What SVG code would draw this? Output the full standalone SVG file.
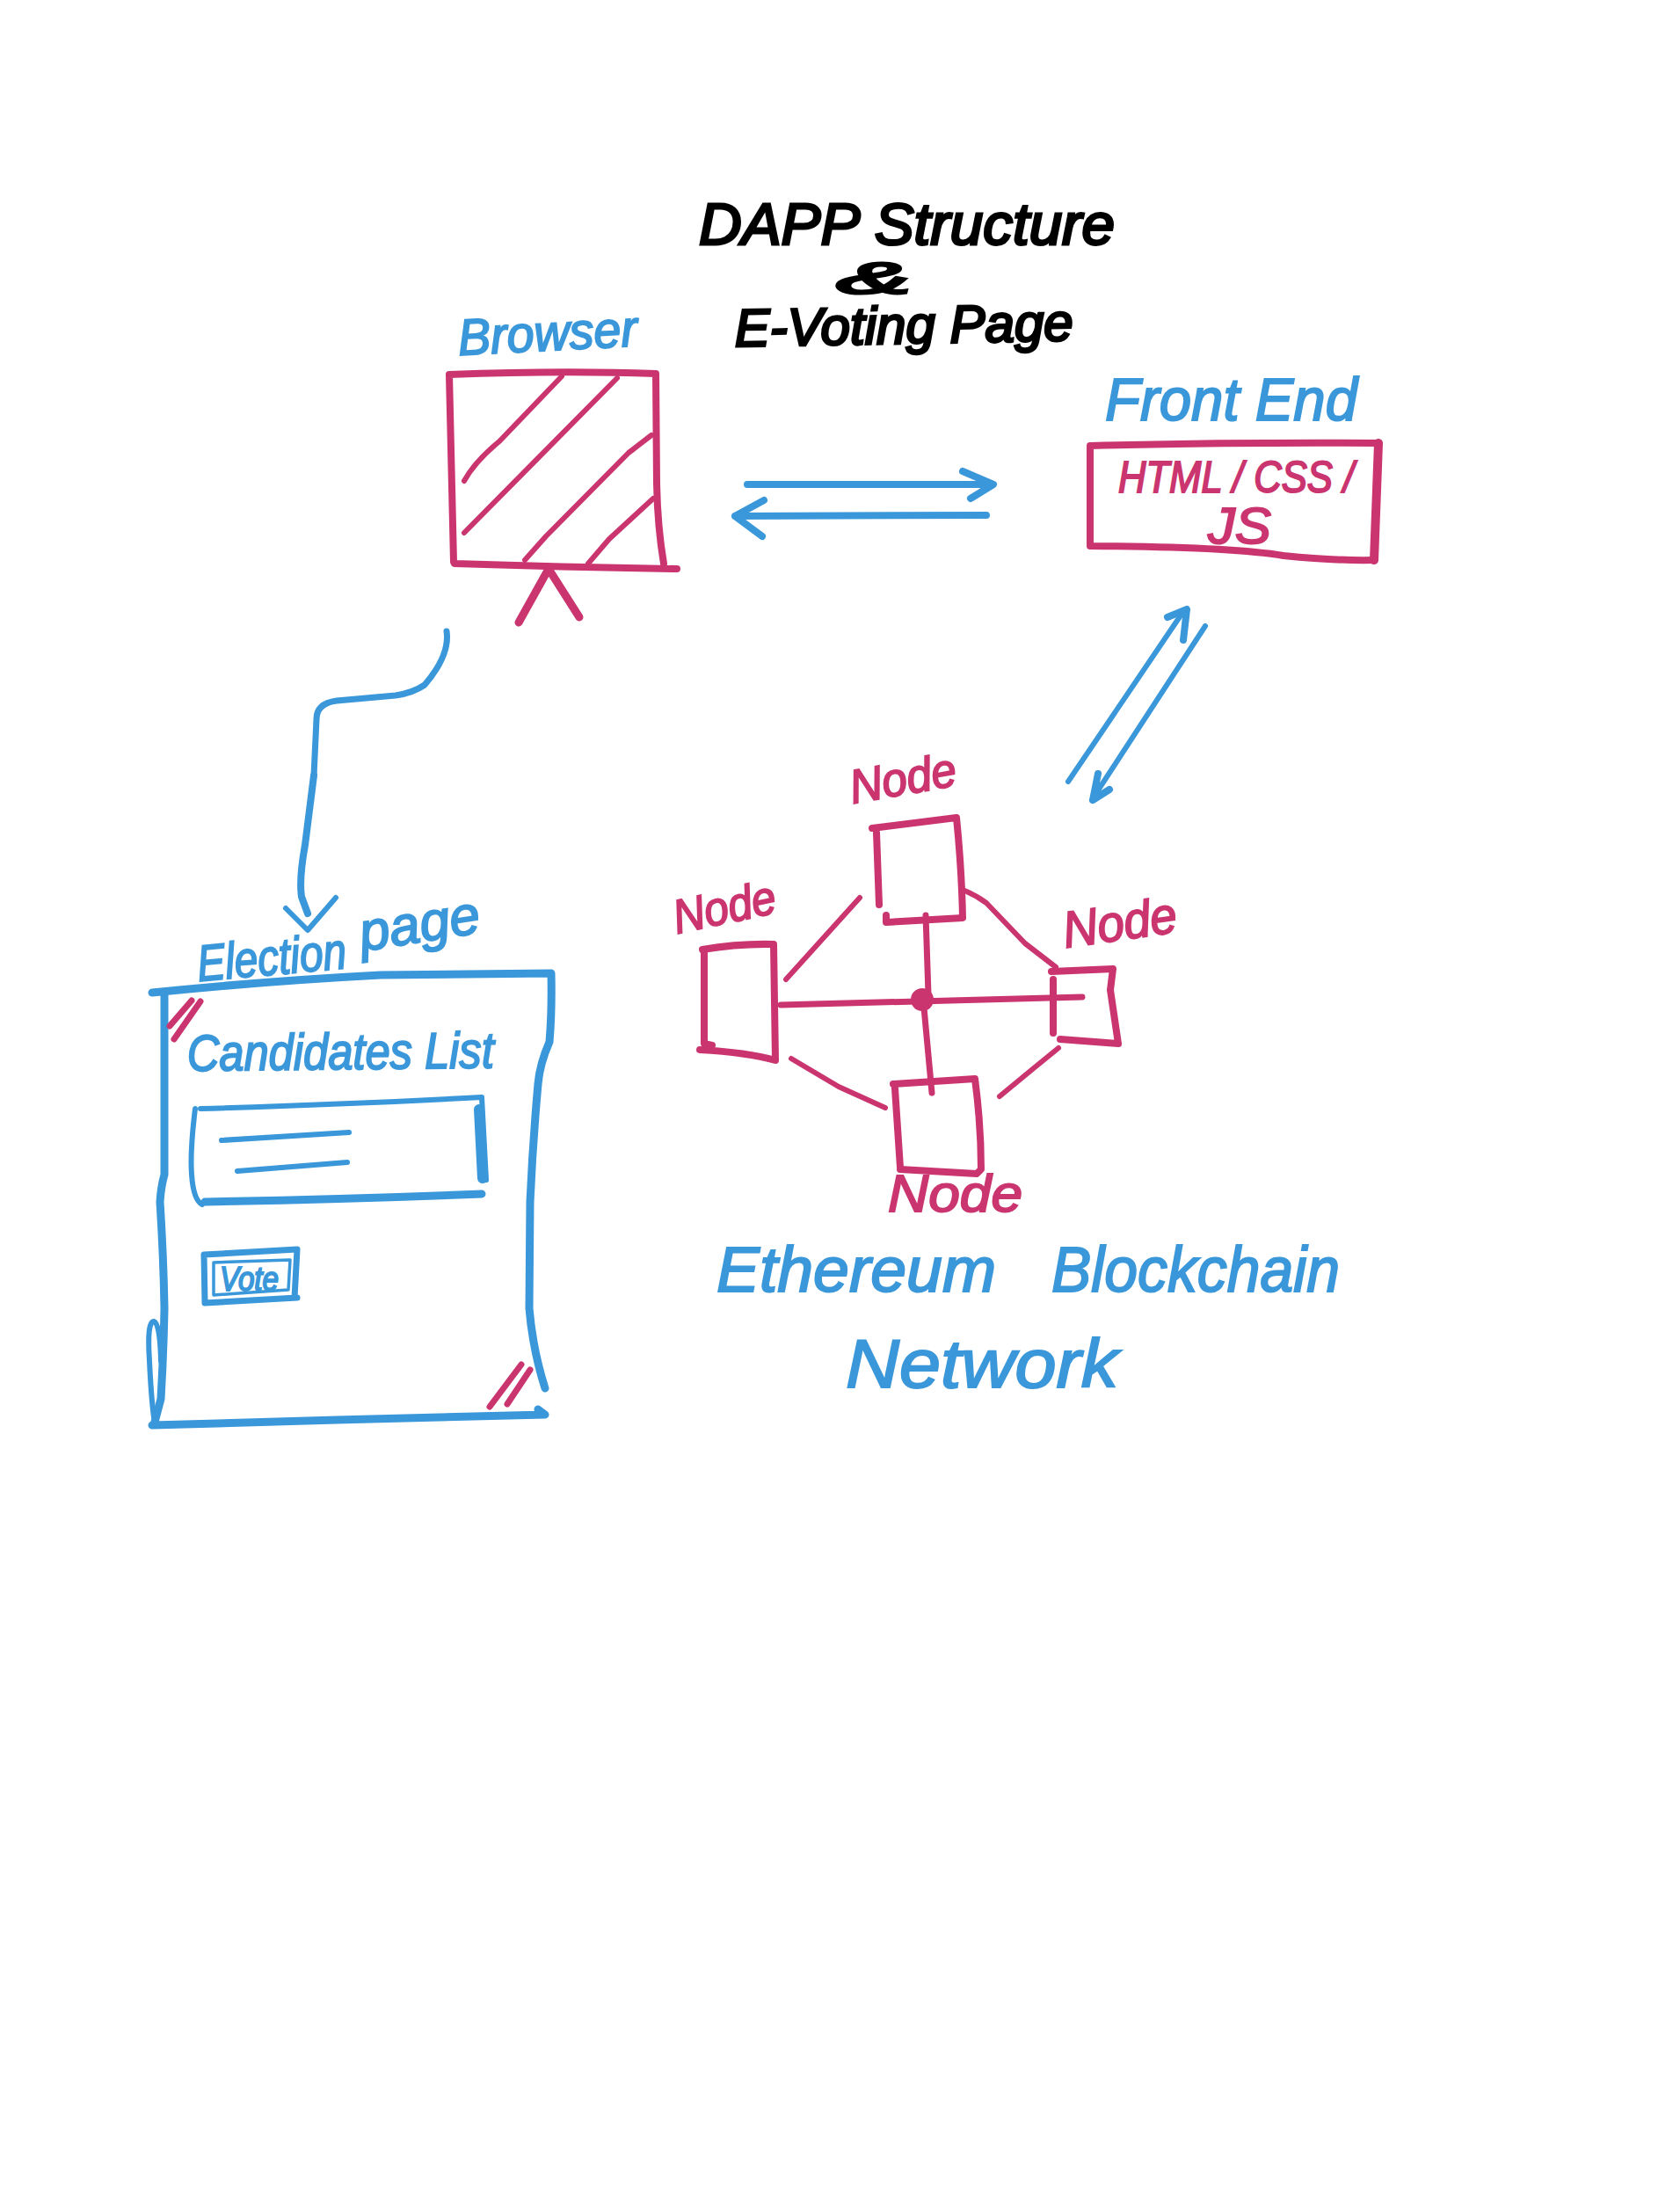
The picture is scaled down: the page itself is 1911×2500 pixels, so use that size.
<svg xmlns="http://www.w3.org/2000/svg" width="1911" height="2500" viewBox="0 0 1911 2500">
<style>
.s{fill:none;stroke-linecap:round;stroke-linejoin:round}
.b{stroke:#3A97DA}.p{stroke:#CB356F}.k{stroke:#000}
.w3{stroke-width:3.5}.w5{stroke-width:5}.w6{stroke-width:6}.w7{stroke-width:7}.w8{stroke-width:8}.w9{stroke-width:9}.w10{stroke-width:10}.w12{stroke-width:12}
text{font-family:"Liberation Sans",Arial,sans-serif;font-style:italic}
.tb{fill:#3A97DA;stroke:#3A97DA;stroke-width:2}
.tp{fill:#CB356F;stroke:#CB356F;stroke-width:2}
.tk{fill:#000;stroke:#000;stroke-width:3}
</style>
<rect width="1911" height="2500" fill="#fff"/>
<g id="title">
<text class="tk" x="795" y="278" font-size="66" textLength="473" lengthAdjust="spacingAndGlyphs">DAPP Structure</text>
<text class="tk" x="952" y="334" font-size="50" textLength="84" lengthAdjust="spacingAndGlyphs">&amp;</text>
<text class="tk" x="836" y="394" font-size="60" textLength="385" lengthAdjust="spacingAndGlyphs" transform="rotate(-1 836 394)">E-Voting Page</text>
</g>
<g id="browser">
<text class="tb" x="522" y="404" font-size="58" textLength="204" lengthAdjust="spacingAndGlyphs" transform="rotate(-3 522 404)">Browser</text>
<path class="s p w8" d="M511 426Q640 421 746 425L747 550Q748 600 755 641M511 426Q513 530 516 639M517 641Q640 645 770 647"/>
<path class="s p w6" d="M639 428L568 502Q540 525 528 547M702 430L528 606M741 495L715 515L621 610L597 637M743 567L693 613L669 641"/>
<path class="s p w9" d="M624 647L590 708M624 647L659 702"/>
</g>
<g id="front-end">
<text class="tb" x="1257" y="478" font-size="68" textLength="287" lengthAdjust="spacingAndGlyphs">Front End</text>
<path class="s p w8" d="M1240 507Q1400 503 1568 504M1240 507L1240 621Q1400 622 1460 632Q1520 638 1563 637"/>
<path class="s p w10" d="M1568 504L1563 637"/>
<text class="tp" x="1272" y="560" font-size="50" textLength="268" lengthAdjust="spacingAndGlyphs">HTML / CSS /</text>
<text class="tp" x="1374" y="618" font-size="58" textLength="72" lengthAdjust="spacingAndGlyphs">JS</text>
</g>
<g id="election-page">
<text class="tb" x="226" y="1116" font-size="58" textLength="170" lengthAdjust="spacingAndGlyphs" transform="rotate(-5 226 1116)">Election</text>
<text class="tb" x="412" y="1082" font-size="62" textLength="138" lengthAdjust="spacingAndGlyphs" transform="rotate(-9 412 1082)">page</text>
<path class="s b w9" d="M173 1129Q300 1116 433 1109L627 1107Q628 1150 625 1185Q614 1210 612 1233Q606 1300 603 1367L602 1488Q606 1535 620 1579M612 1603L620 1609Q500 1612 383 1615L173 1621M187 1130L187 1336Q183 1350 182 1367Q186 1430 187 1488Q186 1540 183 1591L175 1621"/>
<path class="s b w6" d="M183 1548Q182 1505 175 1503Q167 1503 170 1548Q172 1590 175 1612"/>
<path class="s p w7" d="M193 1167L218 1138M198 1182L228 1139M557 1600L593 1552M577 1597L603 1558"/>
<text class="tb" x="213" y="1218" font-size="58" textLength="349" lengthAdjust="spacingAndGlyphs" transform="rotate(-0.6 213 1218)">Candidates List</text>
<path class="s b w6" d="M228 1261Q400 1256 548 1248L553 1342M222 1261Q216 1310 218 1336Q220 1365 230 1370"/>
<path class="s b w9" d="M233 1367Q400 1364 548 1358"/>
<path class="s b w12" d="M545 1262L549 1340"/>
<path class="s b w6" d="M252 1297L397 1288M270 1332L395 1322"/>
<path class="s b w7" d="M232 1427L338 1421L335 1476M233 1482L338 1476M232 1427L233 1482"/>
<path class="s b w3" d="M243 1436L330 1433L328 1467L243 1473Z"/>
<text class="tb" x="250" y="1468" font-size="38" textLength="67" lengthAdjust="spacingAndGlyphs">Vote</text>
</g>
<g id="node-top">
<text class="tp" x="970" y="914" font-size="54" textLength="122" lengthAdjust="spacingAndGlyphs" transform="rotate(-10 970 914)">Node</text>
<path class="s p w8" d="M992 942L1088 930Q1094 990 1095 1044L1008 1049L1008 1041M997 947L1000 1029"/>
</g>
<g id="node-left">
<text class="tp" x="770" y="1062" font-size="54" textLength="118" lengthAdjust="spacingAndGlyphs" transform="rotate(-12 770 1062)">Node</text>
<path class="s p w8" d="M799 1080Q840 1073 880 1074L882 1206Q850 1197 796 1194M801 1083L801 1187L810 1189"/>
</g>
<g id="node-right">
<text class="tp" x="1212" y="1078" font-size="58" textLength="130" lengthAdjust="spacingAndGlyphs" transform="rotate(-8 1212 1078)">Node</text>
<path class="s p w8" d="M1196 1105L1266 1102L1263 1126L1272 1187L1206 1182M1198 1114L1198 1175"/>
</g>
<g id="node-bottom">
<text class="tp" x="1010" y="1378" font-size="60" textLength="153" lengthAdjust="spacingAndGlyphs">Node</text>
<path class="s p w8" d="M1016 1233L1109 1227Q1116 1280 1116 1330L1111 1335L1024 1330M1018 1238L1024 1328"/>
</g>
<g id="network-label">
<text class="tb" x="815" y="1469" font-size="72" textLength="318" lengthAdjust="spacingAndGlyphs">Ethereum</text>
<text class="tb" x="1196" y="1469" font-size="72" textLength="328" lengthAdjust="spacingAndGlyphs">Blockchain</text>
<text class="tb" x="962" y="1578" font-size="78" textLength="310" lengthAdjust="spacingAndGlyphs">Network</text>
</g>
<g id="connectors">
<path class="s b w8" d="M850 551L1126 551M1095 536L1130 551L1104 567"/>
<path class="s b w8" d="M1122 586L836 587M869 569L836 587L867 610"/>
<path class="s b w6" d="M1215 889L1345 697"/>
<path class="s b w8" d="M1328 702L1350 693L1346 728"/>
<path class="s b w6" d="M1371 712L1245 905"/>
<path class="s b w8" d="M1243 910L1262 898M1243 910L1249 880"/>
<path class="s b w7" d="M508 718Q512 745 483 779Q470 788 450 791L383 797Q360 800 360 818L357 882"/>
<path class="s b w8" d="M357 882L347 961Q340 1000 343 1020L350 1039"/>
<path class="s b w6" d="M325 1033L350 1058L382 1021"/>
<path class="s p w7" d="M888 1143L1231 1134M1053 1041L1056 1131M1051 1146L1060 1243"/>
<circle cx="1049" cy="1137" r="13" fill="#CB356F"/>
<path class="s p w6" d="M978 1021L894 1114M1095 1012Q1110 1018 1122 1027L1166 1073L1201 1100M900 1204L954 1236L1007 1260M1204 1192L1177 1214L1137 1247"/>
</g>
</svg>
